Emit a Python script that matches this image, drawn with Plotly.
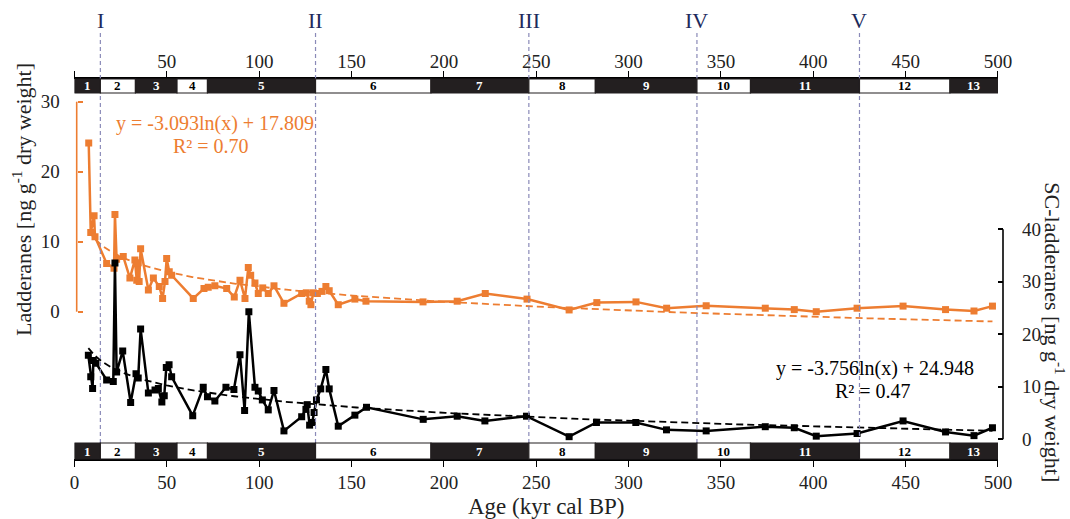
import numpy as np
import plotly.graph_objects as go

# ---------------- data ----------------
age_lad = [7.7, 8.8, 10.6, 11.1, 17.4, 21.4, 21.9, 22.8, 26.4, 30.0, 32.7, 33.7, 34.5, 35.0, 35.8,
           40.0, 42.7, 45.9, 47.7, 49.0, 49.9, 51.3, 52.6, 64.3, 70.1, 72.4, 76.0, 82.4, 86.5,
           89.6, 92.3, 94.1, 95.4, 97.7, 99.5, 101.9, 104.9, 108.0, 113.4, 123.0, 125.5, 127.1,
           128.0, 129.3, 131.5, 134.0, 136.1, 137.9, 142.8, 151.8, 157.8, 188.7, 207.2, 222.4,
           245.0, 267.8, 282.8, 304.0, 320.6, 342.0, 374.0, 389.7, 401.6, 423.7, 448.6, 471.6,
           487.0, 497.0]
lad = [24.1, 11.3, 13.7, 10.7, 6.9, 6.2, 13.9, 7.5, 7.9, 4.8, 7.4, 4.5, 7.0, 4.3, 9.0,
       3.1, 4.8, 3.6, 1.9, 4.3, 7.6, 5.7, 5.2, 1.9, 3.3, 3.5, 3.7, 3.3, 2.1,
       4.5, 1.9, 6.3, 5.2, 4.1, 2.6, 3.4, 2.6, 3.7, 1.2, 2.6, 2.7, 1.5,
       1.0, 2.7, 2.6, 2.9, 3.6, 3.0, 1.0, 1.8, 1.5, 1.4, 1.5, 2.6,
       1.8, 0.25, 1.3, 1.4, 0.5, 0.85, 0.5, 0.3, 0.0, 0.5, 0.8, 0.3,
       0.1, 0.8]

age_sc = [7.5, 8.8, 9.8, 10.2, 11.6, 17.4, 21.0, 21.9, 22.8, 26.1, 30.4, 33.3, 34.5, 35.8,
          40.0, 43.6, 45.4, 47.3, 48.6, 49.7, 51.2, 52.6, 64.0, 69.7, 72.0, 76.0, 82.0, 86.3,
          89.6, 92.1, 94.4, 97.7, 99.5, 101.7, 104.9, 108.0, 113.4, 123.0, 125.3, 126.0,
          127.3, 128.7, 129.7, 131.0, 133.3, 136.1, 137.9, 142.8, 151.8, 158.1, 188.8, 207.2,
          222.2, 244.7, 267.8, 282.6, 303.9, 320.5, 342.0, 374.0, 389.7, 401.6, 423.7, 448.6,
          471.6, 487.0, 497.0]
sc = [16.0, 11.9, 9.7, 15.0, 14.5, 11.3, 11.0, 33.6, 12.8, 16.8, 7.0, 12.5, 11.7, 21.0,
      8.8, 9.4, 9.7, 7.1, 8.3, 13.7, 14.2, 11.9, 4.5, 9.9, 8.1, 7.3, 9.9, 9.5,
      16.1, 5.5, 24.3, 9.9, 9.2, 7.5, 5.6, 9.3, 1.6, 4.3, 5.7, 6.6,
      2.7, 3.2, 5.1, 7.5, 9.6, 13.3, 9.6, 2.5, 4.6, 6.1, 3.8, 4.4,
      3.5, 4.4, 0.5, 3.2, 3.2, 1.8, 1.6, 2.4, 2.2, 0.6, 1.1, 3.5,
      1.4, 0.7, 2.2]

# logarithmic trend lines (coefficients as printed on the chart)
trend_lad = (-3.093, 17.809)
trend_sc = (-3.756, 24.948)

mis_bounds = [0, 14, 33, 55.5, 72, 130.5, 193, 246, 282, 337, 366, 425, 474, 500]
mis_labels = [str(i) for i in range(1, 14)]
term_ages = [14, 130.5, 246, 337, 425]
term_labels = ["I", "II", "III", "IV", "V"]
x_ticks = list(range(0, 501, 50))
lad_ticks = [0, 10, 20, 30]
sc_ticks = [0, 10, 20, 30, 40]

# ---------------- style / layout geometry ----------------
ORANGE = "#ED7D31"
NAVY = "#1c2a5c"
DASHC = "#8a8ab8"
FONT = "Liberation Serif"
W, H = 1070, 519
ML, MR, MT, MB = 72, 66.7, 79, 60
PW = W - ML - MR
PH = H - MT - MB


def pxx(px):
    return (px - ML) / PW


def pxy(py):
    return (H - MB - py) / PH


x_dom = [pxx(74.5), pxx(998.3)]
# left axis: 0 at 311.7px, 7 px per unit ; right axis: 0 at 439.3px, 5.25 px per unit
y1_range = [-(H - MB - 311.7) / 7.0, (311.7 - MT) / 7.0]
y2_range = [-(H - MB - 439.3) / 5.25, (439.3 - MT) / 5.25]

fig = go.Figure()

xt1 = np.geomspace(min(age_lad), max(age_lad), 200)
fig.add_trace(go.Scatter(x=xt1, y=trend_lad[0] * np.log(xt1) + trend_lad[1], mode="lines",
                         line=dict(color=ORANGE, width=1.8, dash="7px,4px"),
                         hoverinfo="skip", showlegend=False))
xt2 = np.geomspace(min(age_sc), max(age_sc), 200)
fig.add_trace(go.Scatter(x=xt2, y=trend_sc[0] * np.log(xt2) + trend_sc[1], mode="lines",
                         yaxis="y2", line=dict(color="black", width=1.8, dash="7px,4px"),
                         hoverinfo="skip", showlegend=False))
fig.add_trace(go.Scatter(x=age_lad, y=lad, mode="lines+markers", name="Ladderanes",
                         line=dict(color=ORANGE, width=2.5),
                         marker=dict(symbol="square", size=7, color=ORANGE),
                         showlegend=False))
fig.add_trace(go.Scatter(x=age_sc, y=sc, mode="lines+markers", name="SC-ladderanes",
                         yaxis="y2", line=dict(color="black", width=2.5),
                         marker=dict(symbol="square", size=7, color="black"),
                         showlegend=False))
# carrier for the top axis
fig.add_trace(go.Scatter(x=[0, 500], y=[None, None], xaxis="x2", mode="lines",
                         hoverinfo="skip", showlegend=False))

shapes = []
# termination dashed lines
for a in term_ages:
    shapes.append(dict(type="line", xref="x", yref="paper", x0=a, x1=a,
                       y0=pxy(443), y1=pxy(32), line=dict(color=DASHC, width=1.2, dash="4px,3px"),
                       layer="above"))
# MIS bars (top & bottom)
annotations = []
for i in range(len(mis_labels)):
    x0, x1 = mis_bounds[i], mis_bounds[i + 1]
    dark = (i % 2 == 0)
    fill = "#231f20" if dark else "white"
    for (ya, yb) in [(pxy(93), pxy(79)), (pxy(459), pxy(443))]:
        shapes.append(dict(type="rect", xref="x", yref="paper", x0=x0, x1=x1, y0=ya, y1=yb,
                           fillcolor=fill, line=dict(color="#231f20", width=1.2), layer="above"))
        annotations.append(dict(x=(x0 + x1) / 2, y=(ya + yb) / 2, xref="x", yref="paper",
                                text="<b>%s</b>" % mis_labels[i], showarrow=False,
                                font=dict(family=FONT, size=13, color="white" if dark else "black"),
                                xanchor="center", yanchor="middle"))
# axis bracket lines
shapes.append(dict(type="line", xref="paper", yref="y", x0=pxx(76.7), x1=pxx(76.7),
                   y0=lad_ticks[0], y1=lad_ticks[-1], line=dict(color=ORANGE, width=1.6)))
shapes.append(dict(type="line", xref="paper", yref="y2", x0=1, x1=1,
                   y0=sc_ticks[0], y1=sc_ticks[-1], line=dict(color="black", width=1.6)))

for a, t in zip(term_ages, term_labels):
    annotations.append(dict(x=a, y=pxy(20), xref="x", yref="paper", text=t, showarrow=False,
                            font=dict(family=FONT, size=22, color=NAVY),
                            xanchor="center", yanchor="middle"))


def note(px, py, text, color, size=20, angle=0):
    return dict(x=pxx(px), y=pxy(py), xref="paper", yref="paper", text=text, textangle=angle,
                showarrow=False, font=dict(family=FONT, size=size, color=color),
                xanchor="center", yanchor="middle")


annotations += [
    note(215, 123, "y = -3.093ln(x) + 17.809", ORANGE),
    note(211, 146, "R² = 0.70", ORANGE),
    note(875, 368, "y = -3.756ln(x) + 24.948", "black"),
    note(873, 391, "R² = 0.47", "black"),
    note(22, 200, "Ladderanes [ng g<sup>-1</sup> dry weight]", "#222", 22, -90),
    note(1055, 332, "SC-ladderanes [ng g<sup>-1</sup> dry weight]", "#222", 22, 90),
    note(547, 506, "Age (kyr cal BP)", "#222", 23),
]

tickfont = dict(family=FONT, size=19, color="#222")
fig.update_layout(
    width=W, height=H, margin=dict(l=ML, r=MR, t=MT, b=MB, pad=0),
    paper_bgcolor="white", plot_bgcolor="white",
    xaxis=dict(domain=x_dom, range=[0, 500], tickvals=x_ticks, ticks="outside", ticklen=6,
               tickwidth=1.3, tickcolor="black", showline=True, linecolor="black", linewidth=1.5,
               showgrid=False, zeroline=False, tickfont=tickfont, ticklabelstandoff=-1),
    xaxis2=dict(domain=x_dom, range=[0, 500], overlaying="x", side="top", anchor="y",
                tickvals=x_ticks, ticktext=[" "] + [str(v) for v in x_ticks[1:]],
                ticks="outside", ticklen=6, tickwidth=1.3, tickcolor="black", showline=True,
                linecolor="black", linewidth=1.5, showgrid=False, zeroline=False,
                tickfont=tickfont, ticklabelstandoff=-4),
    yaxis=dict(range=y1_range, anchor="free", position=pxx(76.7), tickvals=lad_ticks,
               ticks="inside", ticklen=5, tickwidth=1.5, tickcolor=ORANGE, showline=False,
               showgrid=False, zeroline=False, tickfont=tickfont, ticklabelstandoff=17),
    yaxis2=dict(range=y2_range, overlaying="y", side="right", anchor="free", position=1,
                tickvals=sc_ticks, ticks="inside", ticklen=5, tickwidth=1.5, tickcolor="black",
                showline=False, showgrid=False, zeroline=False, tickfont=tickfont,
                ticklabelstandoff=18),
    shapes=shapes, annotations=annotations, showlegend=False,
)

fig.write_html("out.html", config={"displayModeBar": False},
               post_script="document.body.style.margin='0';document.body.style.padding='0';")
